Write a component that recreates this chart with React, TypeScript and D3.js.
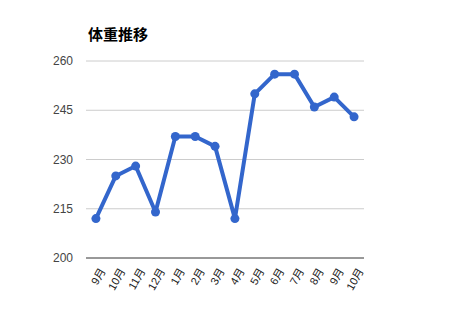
import React from "react";
import * as d3 from "d3";

const categories = ["9月", "10月", "11月", "12月", "1月", "2月", "3月", "4月", "5月", "6月", "7月", "8月", "9月", "10月"];
const weights = [212, 225, 228, 214, 237, 237, 234, 212, 250, 256, 256, 246, 249, 243];
const yTicks = [200, 215, 230, 245, 260];
const title = "体重推移";

export default function App() {
  const W = 450, H = 320;
  const left = 86, right = 364, top = 61, bottom = 258;
  const x = d3.scaleBand<number>().domain(d3.range(categories.length)).range([left, right]);
  const y = d3.scaleLinear().domain([200, 260]).range([bottom, top]);
  const cx = (i: number) => (x(i) as number) + x.bandwidth() / 2;
  const line = d3.line<number>().x((_, i) => cx(i)).y((d) => y(d));
  return (
    <svg width={W} height={H} style={{ position: "absolute", left: 0, top: 0, background: "#fff" }}
      fontFamily="'Liberation Sans', Arial, sans-serif">
      <text x={88} y={40} fontSize={15} fontWeight="bold" fill="#000"
        fontFamily="'Noto Sans CJK JP', sans-serif">{title}</text>
      {yTicks.map((t) => (
        <g key={t}>
          {t !== 200 && <line x1={left} x2={right} y1={y(t)} y2={y(t)} stroke="#cccccc" strokeWidth={1} />}
          <text x={73} y={y(t)} dy="0.35em" textAnchor="end" fontSize={12} fill="#444">{t}</text>
        </g>
      ))}
      <line x1={left} x2={right} y1={y(200)} y2={y(200)} stroke="#333" strokeWidth={1} />
      <path d={line(weights) || ""} fill="none" stroke="#3366cc" strokeWidth={4} strokeLinejoin="round" />
      {weights.map((v, i) => (
        <circle key={i} cx={cx(i)} cy={y(v)} r={4.5} fill="#3366cc" />
      ))}
      {categories.map((c, i) => (
        <text key={i} transform={`translate(${cx(i) + 10},${271}) rotate(-60)`} textAnchor="end"
          fontSize={11} fill="#222" fontFamily="'Liberation Sans', 'Noto Sans CJK JP', sans-serif">{c}</text>
      ))}
    </svg>
  );
}
